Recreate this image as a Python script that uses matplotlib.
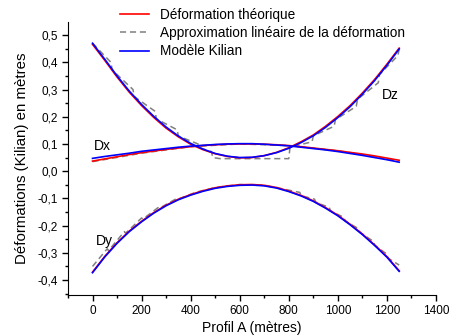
import matplotlib
matplotlib.use("Agg")
import matplotlib.pyplot as plt
from matplotlib.ticker import MultipleLocator, FuncFormatter

plt.rcParams['font.family'] = ['Liberation Sans', 'DejaVu Sans']

# Profil A, points every 50 m
profil = list(range(0, 1251, 50))

# Déformation théorique (red)
dz_theo = [0.466, 0.407, 0.346, 0.290, 0.241, 0.197, 0.158, 0.126, 0.099, 0.079, 0.064, 0.054, 0.049,
           0.050, 0.057, 0.069, 0.086, 0.108, 0.133, 0.165, 0.201, 0.241, 0.287, 0.337, 0.393, 0.452]
dx_theo = [0.037, 0.045, 0.053, 0.061, 0.068, 0.074, 0.080, 0.085, 0.090, 0.094, 0.097, 0.099, 0.100,
           0.100, 0.099, 0.097, 0.094, 0.090, 0.085, 0.080, 0.075, 0.069, 0.063, 0.056, 0.048, 0.040]
dy_theo = [-0.371, -0.313, -0.263, -0.220, -0.184, -0.152, -0.125, -0.103, -0.086, -0.072, -0.061, -0.054, -0.050,
           -0.049, -0.052, -0.060, -0.073, -0.089, -0.109, -0.134, -0.162, -0.195, -0.231, -0.271, -0.314, -0.366]

# Modèle Kilian (blue)
dz_kilian = [0.470, 0.411, 0.350, 0.294, 0.245, 0.201, 0.162, 0.129, 0.102, 0.081, 0.065, 0.055, 0.050,
             0.051, 0.057, 0.068, 0.084, 0.105, 0.130, 0.161, 0.197, 0.237, 0.283, 0.333, 0.389, 0.449]
dx_kilian = [0.047, 0.054, 0.060, 0.066, 0.073, 0.078, 0.083, 0.088, 0.092, 0.095, 0.098, 0.100, 0.101,
             0.101, 0.099, 0.096, 0.093, 0.088, 0.083, 0.078, 0.072, 0.065, 0.058, 0.050, 0.042, 0.033]
dy_kilian = [-0.373, -0.315, -0.265, -0.222, -0.186, -0.154, -0.127, -0.105, -0.088, -0.074, -0.063, -0.056, -0.052,
             -0.051, -0.054, -0.062, -0.075, -0.091, -0.111, -0.136, -0.164, -0.197, -0.233, -0.273, -0.316, -0.368]

# Approximation linéaire (grey dashed, stepped)
dz_approx_x = [0, 75, 80, 165, 170, 255, 260, 345, 350, 430, 440, 485, 490, 520, 800, 805,
               895, 900, 985, 990, 1075, 1080, 1165, 1170, 1245, 1250]
dz_approx_y = [0.470, 0.400, 0.372, 0.300, 0.274, 0.220, 0.192, 0.152, 0.129, 0.100, 0.085, 0.072, 0.050, 0.046, 0.046, 0.088,
               0.108, 0.130, 0.165, 0.189, 0.238, 0.264, 0.325, 0.355, 0.425, 0.449]
dx_approx_x = [0, 200, 400, 600, 800, 1000, 1250]
dx_approx_y = [0.035, 0.066, 0.090, 0.100, 0.094, 0.075, 0.038]
dy_approx_x = [0, 60, 65, 130, 135, 200, 205, 270, 275, 340, 345, 420, 500, 600, 700, 780, 845, 850,
               905, 910, 965, 970, 1025, 1030, 1085, 1090, 1145, 1150, 1200, 1205, 1250]
dy_approx_y = [-0.350, -0.285, -0.292, -0.222, -0.228, -0.172, -0.176, -0.132, -0.135, -0.102, -0.104, -0.078, -0.060,
               -0.049, -0.052, -0.066, -0.078, -0.090, -0.103, -0.115, -0.133, -0.146, -0.170, -0.183, -0.212, -0.225,
               -0.258, -0.272, -0.305, -0.320, -0.345]

fig = plt.figure(figsize=(4.49, 3.36), dpi=100)
ax = fig.add_axes([0.1514, 0.122, 0.8196, 0.8125])

grey = "#808080"
ax.plot(dz_approx_x, dz_approx_y, color=grey, ls=(0, (4, 2.5)), lw=1.1, zorder=1)
ax.plot(dx_approx_x, dx_approx_y, color=grey, ls=(0, (4, 2.5)), lw=1.1, zorder=1)
ax.plot(dy_approx_x, dy_approx_y, color=grey, ls=(0, (4, 2.5)), lw=1.1, zorder=1)

for ys in (dz_theo, dx_theo, dy_theo):
    l_red, = ax.plot(profil, ys, color="#ff0000", lw=1.2, zorder=2)
for ys in (dz_kilian, dx_kilian, dy_kilian):
    l_blue, = ax.plot(profil, ys, color="#0000ff", lw=1.2, zorder=3)
l_grey, = ax.plot([], [], color=grey, ls=(0, (4, 2.5)), lw=1.1)

ax.text(5, 0.092, "Dx", fontsize=10, va="center", ha="left")
ax.text(12, -0.257, "Dy", fontsize=10, va="center", ha="left")
ax.text(1180, 0.279, "Dz", fontsize=10, va="center", ha="left")

ax.set_xlim(-100, 1400)
ax.set_ylim(-0.455, 0.548)
ax.xaxis.set_major_locator(MultipleLocator(200))
ax.xaxis.set_minor_locator(MultipleLocator(100))
ax.yaxis.set_major_locator(MultipleLocator(0.1))
ax.yaxis.set_minor_locator(MultipleLocator(0.05))
ax.yaxis.set_major_formatter(FuncFormatter(lambda v, p: ("%.1f" % (round(v, 2) + 0.0)).replace(".", ",").replace("-0,0", "0,0")))

for s in ("top", "right"):
    ax.spines[s].set_visible(False)
ax.tick_params(which="major", direction="out", length=4, width=1, labelsize=8.5)
ax.tick_params(which="minor", direction="out", length=2.5, width=1)

ax.set_xlabel("Profil A (mètres)", fontsize=10, labelpad=2.5)
ax.set_ylabel("Déformations (Kilian) en mètres", fontsize=10.8, labelpad=6)

fig.legend([l_red, l_grey, l_blue],
           ["Déformation théorique", "Approximation linéaire de la déformation", "Modèle Kilian"],
           loc="upper left", bbox_to_anchor=(0.248, 1.0), frameon=False, fontsize=9.8,
           handlelength=2.2, handletextpad=0.75, labelspacing=0.3, borderaxespad=0.2)

fig.savefig("out.png", dpi=100)
